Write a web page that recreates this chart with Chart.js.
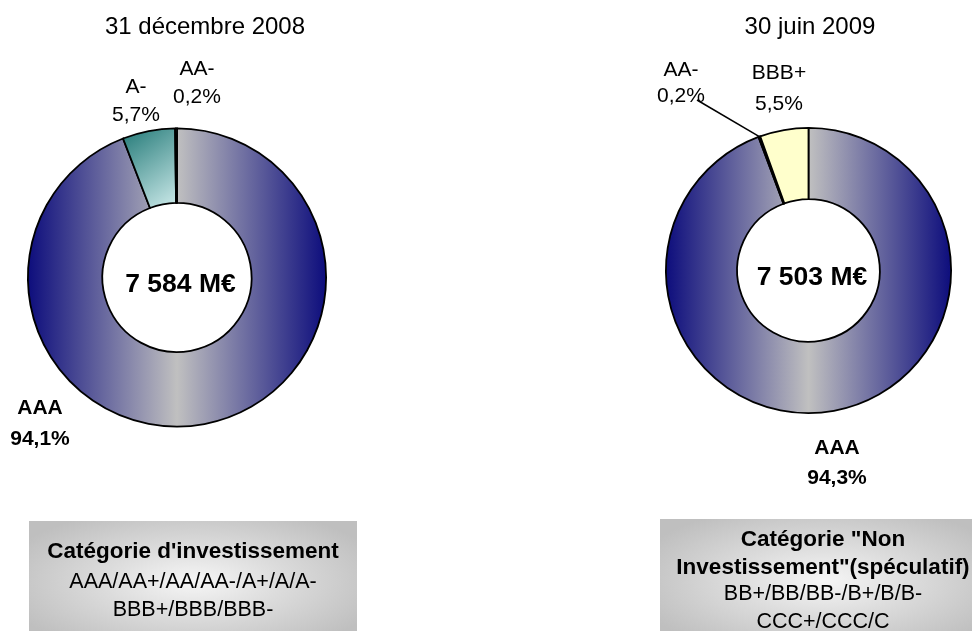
<!DOCTYPE html>
<html lang="fr">
<head>
<meta charset="utf-8">
<script src="https://cdn.jsdelivr.net/npm/chart.js@4.4.1/dist/chart.umd.min.js"></script>
<style>
  html, body { margin: 0; padding: 0; background: #fff; }
  body { width: 972px; height: 631px; position: relative; overflow: hidden;
         font-family: "Liberation Sans", Arial, sans-serif; color: #000; }
  canvas { position: absolute; left: 0; top: 0; }
  .title { position: absolute; top: 11px; width: 300px; text-align: center; font-size: 24px; line-height: 30px; }
  .box { position: absolute; text-align: center; white-space: nowrap; box-sizing: border-box;
         background: radial-gradient(ellipse 60% 70% at 50% 55%, #f6f6f6 0%, #dcdcdc 45%, #bfbfbf 100%); }
  .box .h { font-weight: bold; font-size: 22.5px; }
  .box .r { font-size: 21.5px; }
</style>
</head>
<body>
<canvas id="c2008" width="972" height="631"></canvas>
<canvas id="c2009" width="972" height="631"></canvas>

<div class="title" id="t2008" style="left:55px"></div>
<div class="title" id="t2009" style="left:660px"></div>

<div class="box" style="left:29px; top:521px; width:328px; height:110px; padding-top:15px">
  <div class="h" style="line-height:30px">Catégorie d'investissement</div>
  <div class="r" style="line-height:30px">AAA/AA+/AA/AA-/A+/A/A-</div>
  <div class="r" style="line-height:26px">BBB+/BBB/BBB-</div>
</div>
<div class="box" style="left:660px; top:519px; width:326px; height:112px; padding-top:6px">
  <div class="h" style="line-height:27.5px">Catégorie "Non</div>
  <div class="h" style="line-height:27.5px">Investissement"(spéculatif)</div>
  <div class="r" style="line-height:27.5px">BB+/BB/BB-/B+/B/B-</div>
  <div class="r" style="line-height:27.5px">CCC+/CCC/C</div>
</div>

<script>
/* ── Data ─────────────────────────────────────────── */
const titles = ["31 décembre 2008", "30 juin 2009"];
const totals = ["7 584 M€", "7 503 M€"];

const ratings2008 = ["AAA", "A-", "AA-"];
const shares2008  = [94.1, 5.7, 0.2];

const ratings2009 = ["AAA", "AA-", "BBB+"];
const shares2009  = [94.3, 0.2, 5.5];

/* ── Label layout (offsets from ring centre, px) ───── */
const labelPos2008 = [
  { dx: -137, dy: 129.5, gap: 31, bold: true },
  { dx: -41,  dy: -191.5, gap: 28 },
  { dx: 20,   dy: -209.5, gap: 28 }
];
const labelPos2009 = [
  { dx: 28.5,   dy: 176.5, gap: 30, bold: true },
  { dx: -127.5, dy: -201.5, gap: 26, leader: { dx: -111.5, dy: -170.5 } },
  { dx: -29.5,  dy: -198.5, gap: 31 }
];

document.getElementById("t2008").textContent = titles[0];
document.getElementById("t2009").textContent = titles[1];

const fmtPct = v => v.toFixed(1).replace(".", ",") + "%";

/* ── Fills ─────────────────────────────────────────── */
function silverNavy(chart) {
  const area = chart.chartArea;
  if (!area) return "#000080";
  const g = chart.ctx.createLinearGradient(area.left, 0, area.right, 0);
  g.addColorStop(0, "#0c0c7c");
  g.addColorStop(0.5, "#c0c0c0");
  g.addColorStop(1, "#0c0c7c");
  return g;
}
function tealFade(chart) {
  const area = chart.chartArea;
  if (!area) return "#008080";
  const cx = (area.left + area.right) / 2;
  const r = (area.right - area.left) / 2;
  const g = chart.ctx.createLinearGradient(cx - 0.37 * r, area.top, cx, area.top + 0.52 * r);
  g.addColorStop(0, "#1f7775");
  g.addColorStop(1, "#cbe9e9");
  return g;
}
const fill2008 = ctx => [silverNavy(ctx.chart), tealFade(ctx.chart), "#4fa3a3"][ctx.dataIndex];
const fill2009 = ctx => [silverNavy(ctx.chart), "#c9c9a0", "#ffffcc"][ctx.dataIndex];

/* ── Plugin: labels, centre total, leader line ─────── */
const ringLabels = {
  id: "ringLabels",
  afterDatasetsDraw(chart, args, opts) {
    const { ctx } = chart;
    const meta = chart.getDatasetMeta(0);
    const ds = chart.data.datasets[0];
    const cx = meta.data[0].x, cy = meta.data[0].y;
    ctx.save();
    ctx.fillStyle = "#000";
    ctx.textAlign = "center";
    ctx.textBaseline = "middle";

    ctx.font = "bold 26.5px 'Liberation Sans', Arial";
    ctx.fillText(opts.total, cx + 3.5, cy + 7);

    meta.data.forEach((arc, i) => {
      const p = opts.layout[i];
      const x = cx + p.dx, y = cy + p.dy;
      ctx.font = (p.bold ? "bold 21px" : "21px") + " 'Liberation Sans', Arial";
      ctx.fillText(chart.data.labels[i], x, y + 1);
      ctx.fillText(fmtPct(ds.data[i]), x, y + p.gap + 1);
      if (p.leader) {
        const mid = (arc.startAngle + arc.endAngle) / 2;
        ctx.beginPath();
        ctx.lineWidth = 1.5;
        ctx.strokeStyle = "#000";
        ctx.moveTo(cx + p.leader.dx, cy + p.leader.dy);
        ctx.lineTo(cx + Math.cos(mid) * arc.outerRadius, cy + Math.sin(mid) * arc.outerRadius);
        ctx.stroke();
      }
    });
    ctx.restore();
  }
};

function makeRing(id, labels, values, fill, layout, total, padding) {
  return new Chart(document.getElementById(id), {
    type: "doughnut",
    data: {
      labels,
      datasets: [{
        data: values,
        backgroundColor: fill,
        borderColor: "#000",
        borderWidth: 1.8,
        borderJoinStyle: "miter"
      }]
    },
    options: {
      responsive: false,
      animation: false,
      events: [],
      cutout: "50%",
      layout: { padding },
      plugins: {
        legend: { display: false },
        tooltip: { enabled: false },
        ringLabels: { layout, total }
      }
    },
    plugins: [ringLabels]
  });
}

makeRing("c2008", ratings2008, shares2008, fill2008, labelPos2008, totals[0],
  { left: 27, top: 127.5, right: 645, bottom: 203.5 });

makeRing("c2009", ratings2009, shares2009, fill2009, labelPos2009, totals[1],
  { left: 665, top: 127, right: 20, bottom: 217 });
</script>
</body>
</html>
